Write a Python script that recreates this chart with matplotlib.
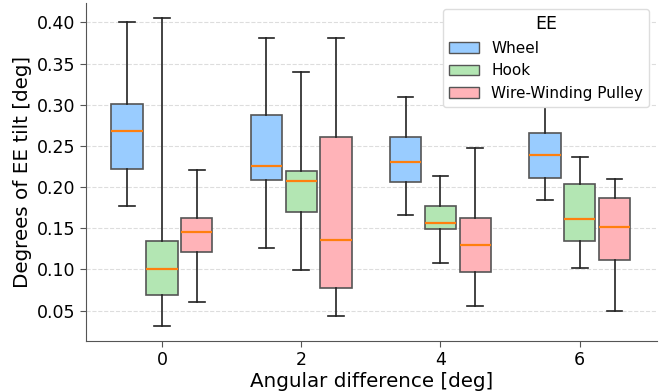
import matplotlib
matplotlib.use("Agg")
import matplotlib.pyplot as plt
from matplotlib.patches import Patch

# Angular difference groups [deg]
angles = [0, 2, 4, 6]
ee_types = ["Wheel", "Hook", "Wire-Winding Pulley"]
colors = ["#99ccff", "#b3e6b3", "#ffb3b8"]

# Box statistics per EE type, one value per angle
wheel_whislo = [0.177, 0.126, 0.166, 0.184]
wheel_q1 = [0.222, 0.209, 0.206, 0.211]
wheel_med = [0.268, 0.226, 0.231, 0.239]
wheel_q3 = [0.301, 0.287, 0.261, 0.266]
wheel_whishi = [0.400, 0.381, 0.309, 0.299]

hook_whislo = [0.031, 0.099, 0.108, 0.102]
hook_q1 = [0.069, 0.170, 0.149, 0.135]
hook_med = [0.100, 0.208, 0.156, 0.161]
hook_q3 = [0.134, 0.220, 0.177, 0.204]
hook_whishi = [0.405, 0.340, 0.213, 0.236]

pulley_whislo = [0.061, 0.044, 0.056, 0.050]
pulley_q1 = [0.121, 0.077, 0.097, 0.111]
pulley_med = [0.146, 0.136, 0.130, 0.151]
pulley_q3 = [0.163, 0.261, 0.163, 0.187]
pulley_whishi = [0.221, 0.381, 0.247, 0.210]

series = [
    (wheel_whislo, wheel_q1, wheel_med, wheel_q3, wheel_whishi),
    (hook_whislo, hook_q1, hook_med, hook_q3, hook_whishi),
    (pulley_whislo, pulley_q1, pulley_med, pulley_q3, pulley_whishi),
]

fig = plt.figure(figsize=(6.59, 3.91), dpi=100)
ax = fig.add_axes([0.1305, 0.128, 0.8665, 0.864])

offsets = [-0.5, 0.0, 0.5]
for k, (lo, q1, med, q3, hi) in enumerate(series):
    stats = []
    for i in range(len(angles)):
        stats.append({"whislo": lo[i], "q1": q1[i], "med": med[i],
                      "q3": q3[i], "whishi": hi[i], "fliers": []})
    ax.bxp(stats, positions=[a + offsets[k] for a in angles], widths=0.45,
           patch_artist=True, showfliers=False, manage_ticks=False,
           boxprops=dict(facecolor=colors[k], edgecolor="#555555", linewidth=1.2),
           whiskerprops=dict(color="#222222", linewidth=1.2),
           capprops=dict(color="#222222", linewidth=1.2),
           medianprops=dict(color="#ff7f0e", linewidth=1.6))

ax.set_xlim(-1.09, 7.11)
ax.set_ylim(0.0132, 0.4234)
ax.set_xticks(angles)
ax.set_yticks([0.05, 0.10, 0.15, 0.20, 0.25, 0.30, 0.35, 0.40])
ax.yaxis.set_major_formatter(matplotlib.ticker.FormatStrFormatter("%.2f"))
ax.tick_params(labelsize=12.5, labelcolor="black", color="#555555", length=4)
ax.set_xlabel("Angular difference [deg]", fontsize=14.3, labelpad=2)
ax.set_ylabel("Degrees of EE tilt [deg]", fontsize=14.3, labelpad=4)

ax.yaxis.grid(True, linestyle="--", color="#dddddd", linewidth=0.8)
ax.set_axisbelow(True)
for side in ["top", "right"]:
    ax.spines[side].set_visible(False)
for side in ["left", "bottom"]:
    ax.spines[side].set_color("#555555")

handles = [Patch(facecolor=c, edgecolor="#555555", label=n) for c, n in zip(colors, ee_types)]
ax.legend(handles=handles, title="EE", loc="upper right", fontsize=11,
          title_fontsize=12.5, bbox_to_anchor=(1.0, 1.005), framealpha=1.0,
          edgecolor="#dddddd")

fig.savefig("out.png", dpi=100)
